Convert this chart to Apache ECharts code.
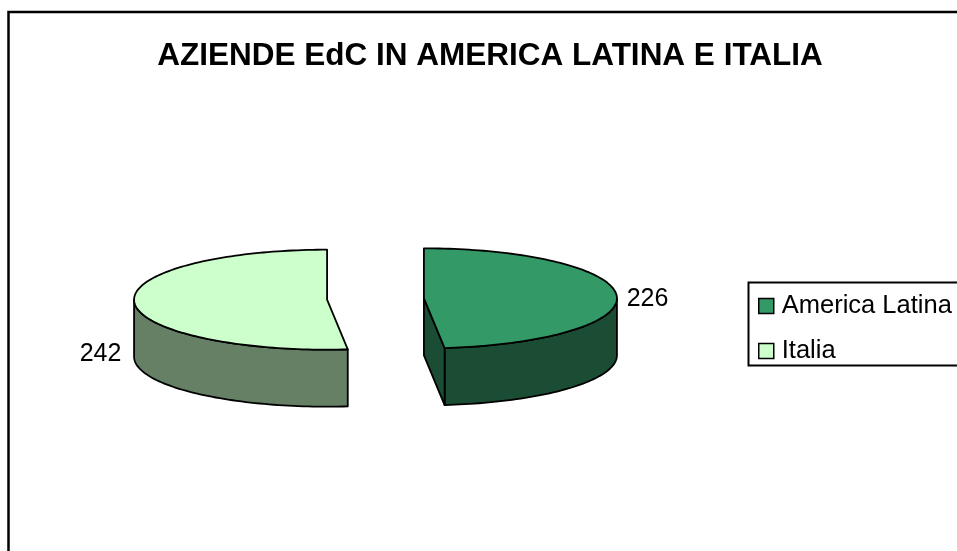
<!DOCTYPE html>
<html>
<head>
<meta charset="utf-8">
<script src="https://cdn.jsdelivr.net/npm/echarts@6/dist/echarts.min.js"></script>
<style>
  html, body { margin: 0; padding: 0; background: #fff; }
  #chart { width: 957px; height: 551px; }
</style>
</head>
<body>
<div id="chart"></div>
<script>
// Data
const categories = ['America Latina', 'Italia'];
const values = [226, 242];
const chartTitle = 'AZIENDE EdC IN AMERICA LATINA E ITALIA';

// Styling
const topColors = ['#339966', '#ccffcc'];
const sideColors = ['#1a4d33', '#668066'];
const FONT = "'Liberation Sans', Arial, sans-serif";

// Tilted pie geometry (pixels)
const PIE = { cx: 375.5, cy: 299, rx: 193, ry: 50, depth: 57, explode: 48.5 };

const total = values.reduce((a, b) => a + b, 0);
const rad = d => d * Math.PI / 180;

// point on the ellipse rim; angle measured clockwise from 12 o'clock
function rim(cx, cy, deg, dy) {
  const r = rad(deg);
  return [cx + PIE.rx * Math.sin(r), cy - PIE.ry * Math.cos(r) + (dy || 0)];
}
function arc(cx, cy, a0, a1, dy) {
  const pts = [];
  const n = Math.max(2, Math.ceil(Math.abs(a1 - a0) / 1.5));
  for (let k = 0; k <= n; k++) pts.push(rim(cx, cy, a0 + (a1 - a0) * k / n, dy));
  return pts;
}

const edge = { stroke: '#000', lineWidth: 1.8, lineJoin: 'round' };

function renderSlice(params, api) {
  const v = api.value(0);
  const idx = api.value(1);
  let before = 0;
  for (let k = 0; k < idx; k++) before += values[k];
  const a0 = before / total * 360;
  const a1 = (before + v) / total * 360;
  const mid = (a0 + a1) / 2;
  const cx = PIE.cx + PIE.explode * Math.sin(rad(mid));
  const cy = PIE.cy - PIE.explode * Math.cos(rad(mid)) * PIE.ry / PIE.rx;
  const D = PIE.depth;
  const side = sideColors[idx];
  const children = [];

  // outer wall, front half only
  const lo = Math.max(a0, 90), hi = Math.min(a1, 270);
  if (lo < hi) {
    const pts = arc(cx, cy, lo, hi, 0).concat(arc(cx, cy, hi, lo, D));
    children.push({ type: 'polygon', shape: { points: pts }, style: Object.assign({ fill: side }, edge) });
  }
  // radial cut faces that turn toward the viewer
  [[a0, Math.sin(rad(a0)) < -1e-6], [a1, Math.sin(rad(a1)) > 1e-6]].forEach(([a, show]) => {
    if (!show) return;
    const p = rim(cx, cy, a, 0);
    const pts = [[cx, cy], p, [p[0], p[1] + D], [cx, cy + D]];
    children.push({ type: 'polygon', shape: { points: pts }, style: Object.assign({ fill: side }, edge) });
  });
  // top face
  const topPts = [[cx, cy]].concat(arc(cx, cy, a0, a1, 0));
  children.push({ type: 'polygon', shape: { points: topPts }, style: Object.assign({ fill: topColors[idx] }, edge) });

  // value label outside the slice
  const lp = rim(cx, cy, mid, 0);
  const right = Math.sin(rad(mid)) >= 0;
  children.push({
    type: 'text',
    style: {
      text: String(v),
      x: right ? lp[0] + 10 : lp[0] - 13,
      y: right ? lp[1] + 3 : lp[1] + D - 5,
      align: right ? 'left' : 'right',
      verticalAlign: 'middle',
      fill: '#000',
      fontSize: 25,
      fontFamily: FONT
    }
  });
  return { type: 'group', children };
}

const chart = echarts.init(document.getElementById('chart'), null, { renderer: 'canvas' });
chart.setOption({
  backgroundColor: '#fff',
  animation: false,
  title: {
    text: chartTitle,
    left: 490,
    textAlign: 'center',
    top: 40,
    padding: 0,
    textStyle: { fontSize: 31.5, fontWeight: 'bold', color: '#000', fontFamily: FONT }
  },
  legend: {
    data: categories,
    orient: 'vertical',
    left: 758,
    top: 293,
    padding: 0,
    itemWidth: 15,
    itemHeight: 15,
    itemGap: 19,
    icon: 'rect',
    selectedMode: false,
    itemStyle: { borderColor: '#000', borderWidth: 1.5 },
    textStyle: { fontSize: 25.5, color: '#000', fontFamily: FONT, padding: [0, 0, 0, 3] }
  },
  graphic: [
    { type: 'rect', shape: { x: 8.5, y: 12, width: 1000, height: 600 }, style: { fill: null, stroke: '#000', lineWidth: 2.5 }, z: -1 },
    { type: 'rect', shape: { x: 748.5, y: 282.5, width: 300, height: 83 }, style: { fill: null, stroke: '#000', lineWidth: 2 }, z: -1 }
  ],
  series: categories.map((name, i) => ({
    type: 'custom',
    name: name,
    coordinateSystem: 'none',
    itemStyle: { color: topColors[i] },
    renderItem: renderSlice,
    data: [[values[i], i]]
  }))
});
</script>
</body>
</html>
